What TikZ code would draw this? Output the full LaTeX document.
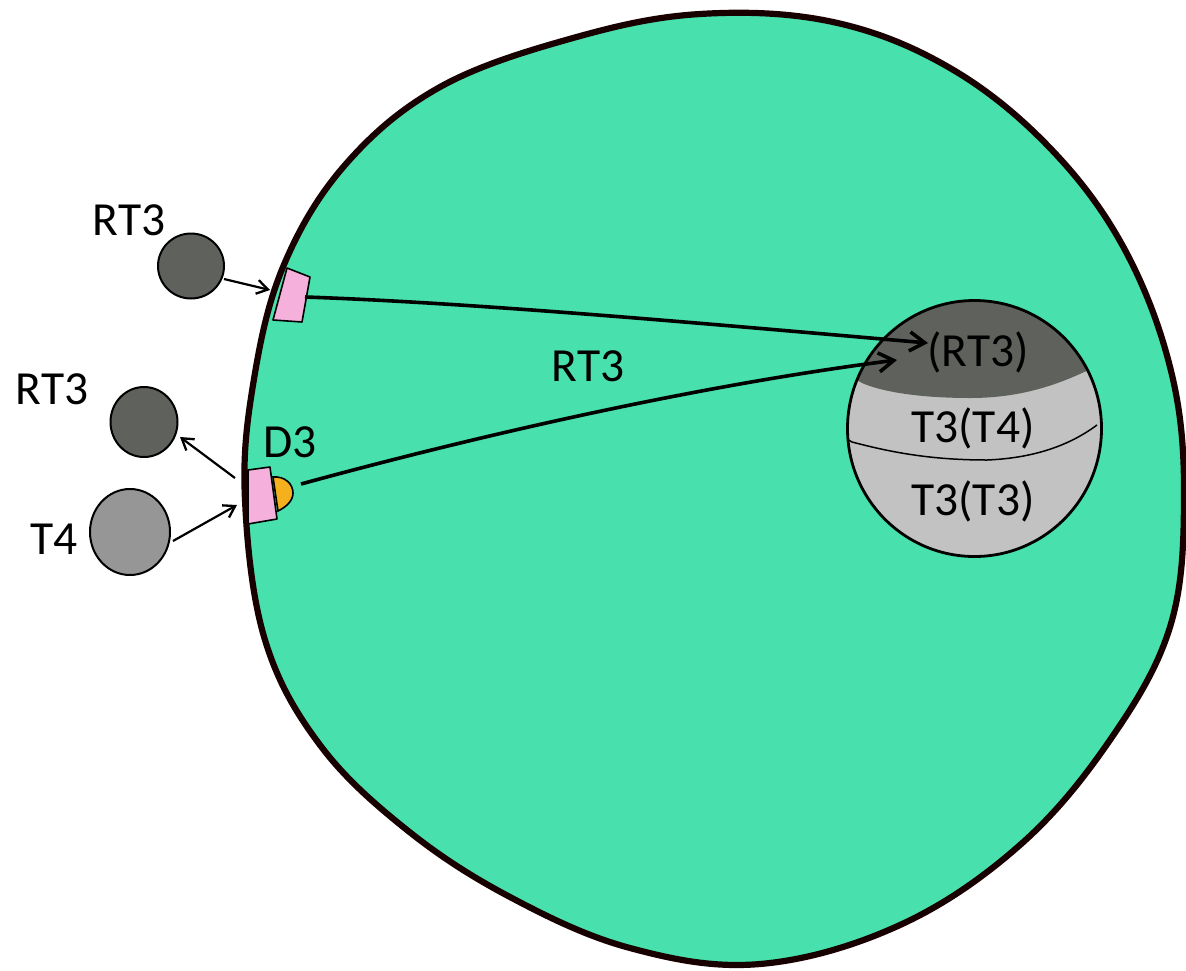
\documentclass[tikz,border=0pt]{standalone}
\usepackage{fontspec}
\setmainfont{Carlito}
\usetikzlibrary{arrows.meta,shapes.geometric}
\definecolor{cellgreen}{HTML}{48E0AC}
\definecolor{darkgrey}{HTML}{5F625C}
\definecolor{midgrey}{HTML}{969696}
\definecolor{lightgrey}{HTML}{C2C2C2}
\definecolor{receptorpink}{HTML}{F5B0DC}
\definecolor{enzymeorange}{HTML}{F5B01E}
\tikzset{
  label text/.style={font=\fontsize{47.5}{52}\selectfont, text=black, inner sep=0pt},
  hormone/.style={shape=ellipse, draw=black, line width=2pt, inner sep=0pt},
  thin arrow/.style={-{Straight Barb[length=11pt,width=14pt,line width=2.3pt]}, line width=2.2pt, black},
  long arrow/.style={-{Straight Barb[length=15pt,width=19pt,line width=3.6pt]}, line width=3.6pt, black},
  receptor/.style={fill=receptorpink, draw=black, line width=1.6pt, line join=round},
}
\begin{document}
\begin{tikzpicture}[x=1pt,y=-1pt]
\useasboundingbox (0,0) rectangle (1186,970);

% cell body with membrane
\draw[fill=cellgreen, draw=black!90!red, line width=6.2pt, line join=round]
  plot[smooth cycle, tension=0.62] coordinates {
    (245,500) (253,385) (283,267) (345,165) (440,87) (573,38) (700,14)
    (833,22) (950,68) (1050,148) (1125,250) (1172,375) (1184,500)
    (1170,627) (1110,740) (1020,845) (900,925) (760,964) (630,948)
    (510,897) (407,830) (320,745) (265,640)};

% nucleus with its three zones
\begin{scope}
  \clip (974.5,428.5) ellipse [x radius=127, y radius=128];
  \fill[lightgrey] (840,290) rectangle (1110,570);
  \fill[darkgrey] (840,290) -- (1110,290) -- (1110,360) -- (1082,373)
    .. controls (1045,390) and (1010,398) .. (970,398)
    .. controls (925,398) and (885,393) .. (862,383) -- (840,370) -- cycle;
  \draw[black, line width=1.5pt] (845,438) -- (852,442)
    .. controls (890,452) and (930,460) .. (987,460)
    .. controls (1035,458) and (1070,445) .. (1097,425);
\end{scope}
\node[shape=ellipse, draw=black, line width=2.8pt, minimum width=254pt, minimum height=256pt, inner sep=0pt] (nucleus) at (974.5,428.5) {};

% free hormones outside the cell
\node[hormone, fill=darkgrey, minimum width=66pt, minimum height=65pt] (hormoneA) at (191,266) {};
\node[hormone, fill=darkgrey, minimum width=67pt, minimum height=70pt] (hormoneB) at (144,422) {};
\node[hormone, fill=midgrey, minimum width=80pt, minimum height=86pt] (hormoneC) at (130,532) {};

% deiodinase behind the lower receptor
\draw[fill=enzymeorange, draw=black, line width=1.6pt] (273,477)
  .. controls (285,476) and (293,484) .. (293,493)
  .. controls (293,501) and (286,507) .. (278,511) -- cycle;

% membrane transporters
\draw[receptor] (287,268) -- (310,277) -- (302,322) -- (273,320) -- cycle;
\draw[receptor] (248,470) -- (270,467) -- (277,519) -- (248,524) -- cycle;

% named ends of the connectors
\coordinate (upperIn) at (270,290);
\coordinate (upperOut) at (305,297);
\coordinate (lowerUp) at (235,478);
\coordinate (lowerIn) at (237,505);
\coordinate (enzymeOut) at (301,484);
\coordinate (hormoneAOut) at (224,279);
\coordinate (hormoneCOut) at (173,541);
\coordinate (hormoneBIn) at (180,437);
\coordinate (nucTipA) at (928,343);
\coordinate (nucTipB) at (897,360);

\draw[thin arrow] (hormoneAOut) -- (upperIn);
\draw[thin arrow] (lowerUp) -- (hormoneBIn);
\draw[thin arrow] (hormoneCOut) -- (lowerIn);
\draw[long arrow] (upperOut) .. controls (480,303) and (720,325) .. (nucTipA);
\draw[long arrow] (enzymeOut) .. controls (480,435) and (700,385) .. (nucTipB);

% labels
\node[label text] (lblA) at (129,220) {RT3};
\node[label text] (lblB) at (52,389) {RT3};
\node[label text] (lblD) at (290,442) {D3};
\node[label text] (lblT) at (54,539) {T4};
\node[label text] (lblC) at (588,366) {RT3};
\node[label text] (lblN1) at (978,352) {(RT3)};
\node[label text] (lblN2) at (973,428) {T3(T4)};
\node[label text] (lblN3) at (973,501) {T3(T3)};
\end{tikzpicture}
\end{document}
